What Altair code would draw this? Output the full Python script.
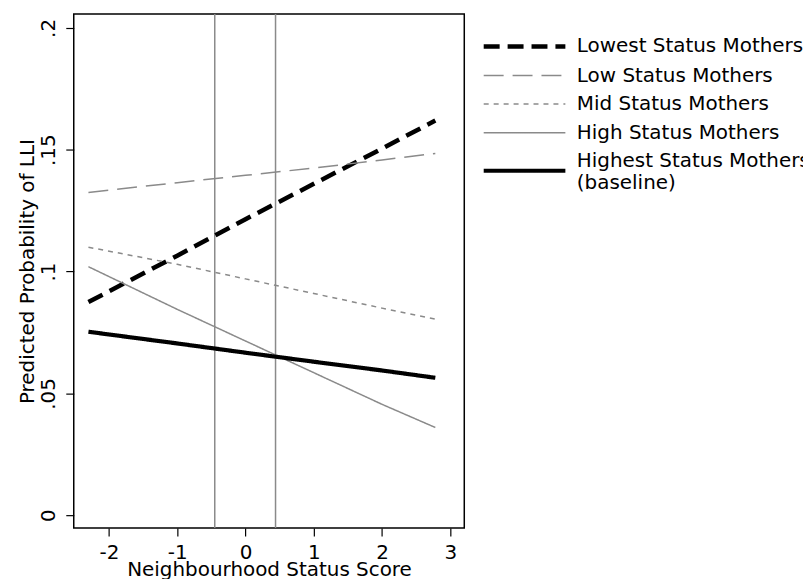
import altair as alt
import pandas as pd

# ---- data ----
x_vals = [-2.3, -1.0, 0.0, 1.0, 2.0, 2.78]
lowest = [0.0875, 0.1065, 0.1215, 0.1360, 0.1505, 0.1620]
low = [0.1325, 0.1365, 0.1395, 0.1425, 0.1458, 0.1485]
mid = [0.1100, 0.1030, 0.0970, 0.0910, 0.0850, 0.0805]
high = [0.1020, 0.0845, 0.0715, 0.0585, 0.0455, 0.0360]
highest = [0.0753, 0.0705, 0.0667, 0.0630, 0.0594, 0.0564]

groups = [
    "Lowest Status Mothers",
    "Low Status Mothers",
    "Mid Status Mothers",
    "High Status Mothers",
    "Highest Status Mothers (baseline)",
]
series = [lowest, low, mid, high, highest]
vlines = [-0.45, 0.44]
x_ticks = [-2, -1, 0, 1, 2, 3]
y_ticks = [0, 0.05, 0.1, 0.15, 0.2]

rows = []
for g, vals in zip(groups, series):
    for xv, yv in zip(x_vals, vals):
        rows.append({"group": g, "x": xv, "y": yv})
df = pd.DataFrame(rows)
vdf = pd.DataFrame({"x": vlines})

FONT = "DejaVu Sans"
GRAY = "#8a8a8a"

x_enc = alt.X(
    "x:Q",
    scale=alt.Scale(domain=[-2.515, 3.204], nice=False, zero=False),
    axis=alt.Axis(
        values=x_ticks, title="Neighbourhood Status Score", grid=False, domain=False,
        tickSize=8, tickColor="black", tickWidth=1.2, labelPadding=6,
        labelExpr="datum.value < 0 ? '-' + (-datum.value) : '' + datum.value",
        labelFontSize=20, titleFontSize=20, titlePadding=-2,
        labelColor="black", titleColor="black", titleFontWeight="normal",
    ),
)

rules = alt.Chart(vdf).mark_rule(color=GRAY, strokeWidth=1.5).encode(x=x_enc)

LAST = groups[-1]
LEG = dict(
    title=None, orient="none", legendX=399, legendY=20,
    symbolType="M0,0H8", symbolSize=420, labelFontSize=20,
    labelOffset=81, padding=0, rowPadding=7.7,
    labelColor="black", labelLimit=400,
    labelBaseline={"expr": f"datum.value == '{LAST}' ? 'bottom' : 'middle'"},
    labelExpr=f"datum.value == '{LAST}' ? ['Highest Status Mothers', '(baseline)'] : datum.label",
)

lines = alt.Chart(df).mark_line(strokeCap="butt").encode(
    x=x_enc,
    y=alt.Y(
        "y:Q",
        scale=alt.Scale(domain=[-0.0053, 0.2057], nice=False, zero=False),
        axis=alt.Axis(
            values=y_ticks, title="Predicted Probability of LLI", grid=False, domain=False,
            tickSize=8, tickColor="black", tickWidth=1.2, labelPadding=7,
            labelAngle=270, labelAlign="center", labelBaseline="bottom",
            labelExpr="datum.value == 0 ? '0' : slice(format(datum.value, '.2~f'), 1)",
            labelFontSize=20, titleFontSize=20, titlePadding=1,
            labelColor="black", titleColor="black", titleFontWeight="normal",
        ),
    ),
    color=alt.Color(
        "group:N",
        sort=groups,
        scale=alt.Scale(type="ordinal", domain=groups, range=["black", GRAY, GRAY, GRAY, "black"]),
        legend=alt.Legend(**LEG),
    ),
    strokeDash=alt.StrokeDash(
        "group:N",
        sort=groups,
        scale=alt.Scale(type="ordinal", domain=groups, range=[[16, 8], [20, 9], [5, 5], [1, 0], [1, 0]]),
        legend=alt.Legend(**LEG),
    ),
    strokeWidth=alt.StrokeWidth(
        "group:N",
        sort=groups,
        scale=alt.Scale(type="ordinal", domain=groups, range=[4.5, 1.5, 1.5, 1.5, 4.2]),
        legend=alt.Legend(**LEG),
    ),
)

chart = (
    alt.layer(rules, lines)
    .properties(
        width=392, height=516,
        autosize=alt.AutoSizeParams(type="none"),
        padding={"left": 66, "top": 5, "right": 340, "bottom": 50},
    )
    .configure(font=FONT, background="white")
    .configure_view(stroke="black", strokeWidth=1.5)
)

chart.save("out.html", embed_options={"renderer": "svg", "actions": False})
